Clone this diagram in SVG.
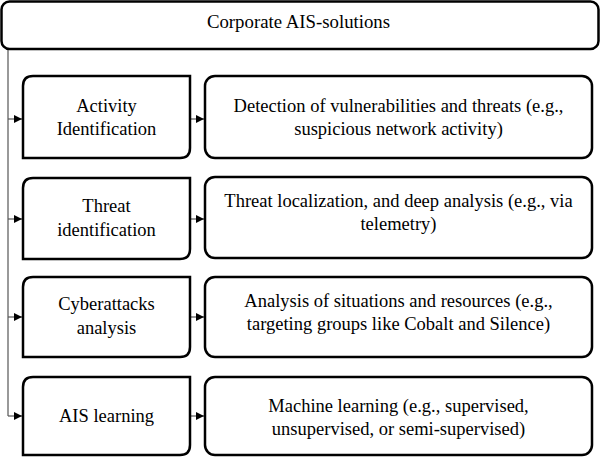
<svg xmlns="http://www.w3.org/2000/svg" width="602" height="458" viewBox="0 0 602 458">
<defs>
<marker id="ah" viewBox="0 0 10 10" refX="10" refY="5" markerWidth="8" markerHeight="8" markerUnits="userSpaceOnUse" orient="auto">
<path d="M0,0 L10,5 L0,10 z" fill="#000"/>
</marker>
<style>
.box{fill:#fff;stroke:#000;stroke-width:2.5}
.c{fill:none;stroke:#555;stroke-width:1.2}
</style>
</defs>
<rect width="602" height="458" fill="#fff"/>
<g id="connectors">
<path class="c" d="M8,50 V416"/>
<path class="c" d="M8,119 H22" marker-end="url(#ah)"/>
<path class="c" d="M8,219 H22" marker-end="url(#ah)"/>
<path class="c" d="M8,317 H22" marker-end="url(#ah)"/>
<path class="c" d="M8,416 H22" marker-end="url(#ah)"/>
<path class="c" d="M190,119 H204" marker-end="url(#ah)"/>
<path class="c" d="M190,219 H204" marker-end="url(#ah)"/>
<path class="c" d="M190,317 H204" marker-end="url(#ah)"/>
<path class="c" d="M190,416 H204" marker-end="url(#ah)"/>
</g>
<g font-family="Liberation Serif, Times New Roman, serif" font-size="18.5" fill="#000" text-anchor="middle">
<g id="root">
<rect class="box" x="1.5" y="1.5" width="597" height="47.5" rx="8"/>
<text x="298.5" y="28" font-size="18.8">Corporate AIS-solutions</text>
</g>
<g id="n1">
<path class="box" d="M23,86 Q23,76 33,76 H190 V148 Q190,158 180,158 H23 Z"/>
<text x="106.5" y="112">Activity</text>
<text x="106.5" y="135">Identification</text>
</g>
<g id="d1">
<rect class="box" x="205" y="76" width="387" height="82" rx="10"/>
<text x="398.5" y="112">Detection of vulnerabilities and threats (e.g.,</text>
<text x="398.5" y="135">suspicious network activity)</text>
</g>
<g id="n2">
<path class="box" d="M23,188 Q23,178 33,178 H190 V249 Q190,259 180,259 H23 Z"/>
<text x="106.5" y="212">Threat</text>
<text x="106.5" y="236">identification</text>
</g>
<g id="d2">
<rect class="box" x="205" y="177" width="387" height="81" rx="10"/>
<text x="398.5" y="207">Threat localization, and deep analysis (e.g., via</text>
<text x="398.5" y="230">telemetry)</text>
</g>
<g id="n3">
<path class="box" d="M23,287 Q23,277 33,277 H190 V347 Q190,357 180,357 H23 Z"/>
<text x="106.5" y="310">Cyberattacks</text>
<text x="106.5" y="334">analysis</text>
</g>
<g id="d3">
<rect class="box" x="205" y="277" width="387" height="80" rx="10"/>
<text x="398.5" y="307">Analysis of situations and resources (e.g.,</text>
<text x="398.5" y="330">targeting groups like Cobalt and Silence)</text>
</g>
<g id="n4">
<path class="box" d="M23,387 Q23,377 33,377 H190 V445 Q190,455 180,455 H23 Z"/>
<text x="106.5" y="422">AIS learning</text>
</g>
<g id="d4">
<rect class="box" x="205" y="377" width="387" height="78" rx="10"/>
<text x="398.5" y="412">Machine learning (e.g., supervised,</text>
<text x="398.5" y="435">unsupervised, or semi-supervised)</text>
</g>
</g>
</svg>
